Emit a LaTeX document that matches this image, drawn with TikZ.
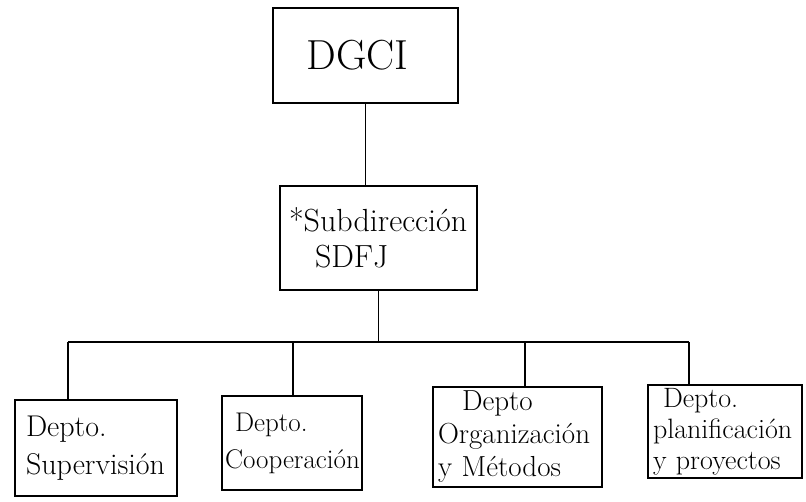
\documentclass[tikz,border=0pt]{standalone}
\tikzset{
  box/.style={draw=black, line width=1.5pt, rectangle, align=left, inner ysep=0pt, anchor=center},
  conn/.style={draw=black, line width=1.5pt}
}
\begin{document}
\begin{tikzpicture}[x=1pt, y=-1pt]
\useasboundingbox (0,0) rectangle (806,502);
% top
\node[box, minimum width=185pt, minimum height=95pt, font=\fontsize{42}{44}\selectfont, inner xsep=0pt, text width=185pt, align=center] (dgci) at (365.5,55.5) {DGCI\hspace*{16pt}\par\vspace*{6pt}};
% sub
\node[box, minimum width=197pt, minimum height=104pt, inner xsep=9pt, text width=179pt, font=\fontsize{32}{36}\selectfont] (sub) at (378.5,238) {*Subdirección\\\hspace*{26pt}SDFJ\par\vspace*{14pt}};
% departments
\node[box, minimum width=162pt, minimum height=96pt, inner xsep=11pt, text width=140pt, font=\fontsize{30}{38}\selectfont] (d1) at (96,448) {Depto.\\Supervisión};
\node[box, minimum width=140pt, minimum height=94pt, inner xsep=3pt, text width=134pt, font=\fontsize{27}{37}\selectfont] (d2) at (292,443) {\hspace*{10pt}Depto.\\Cooperación\par\vspace*{10pt}};
\node[box, minimum width=169pt, minimum height=100pt, inner xsep=5pt, text width=159pt, font=\fontsize{29}{33}\selectfont] (d3) at (517.5,437) {\hspace*{24pt}Depto\\Organización\\y Métodos};
\node[box, minimum width=154pt, minimum height=93pt, inner xsep=5pt, text width=144pt, font=\fontsize{28}{31}\selectfont] (d4) at (725,431.5) {\hspace*{10pt}Depto.\\planificación\\y proyectos};
% junction coordinates
\coordinate (j1) at (68,342);
\coordinate (j2) at (293,342);
\coordinate (j3) at (525,342);
\coordinate (j4) at (689,342);
\coordinate (jm) at (378.5,342);
% connectors
\draw[conn] (dgci.south) -- (dgci.south |- sub.north);
\draw[conn] (sub.south) -- (jm);
\draw[conn] (j1) -- (j4);
\draw[conn] (j1) -- (j1 |- d1.north);
\draw[conn] (j2) -- (j2 |- d2.north);
\draw[conn] (j3) -- (j3 |- d3.north);
\draw[conn] (j4) -- (j4 |- d4.north);
\end{tikzpicture}
\end{document}
